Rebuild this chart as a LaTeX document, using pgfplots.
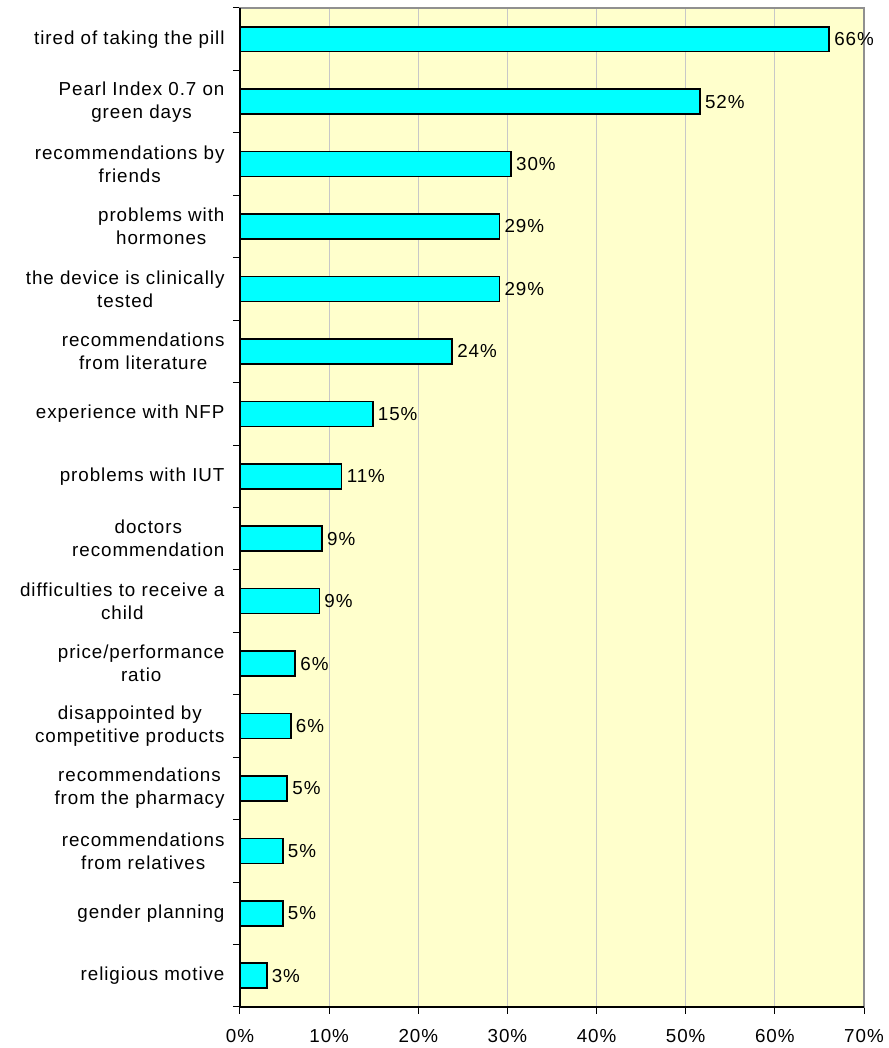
\documentclass[border=0pt]{standalone}
\usepackage{fontspec}
\setmainfont{Liberation Sans}[LetterSpace=5]
\usepackage{pgfplots}
\pgfplotsset{compat=1.18}
\definecolor{plotbg}{HTML}{FFFFCC}
\definecolor{barcyan}{HTML}{00FFFF}
\definecolor{gridgray}{HTML}{C8C8C8}
\definecolor{framegray}{HTML}{909090}
\begin{document}
\begin{tikzpicture}
\begin{axis}[
    at={(0,0)}, anchor=south west,
    scale only axis,
    width=624pt, height=999pt,
    font=\fontsize{18.8}{23}\selectfont,
    /pgf/number format/assume math mode=true,
    xbar, bar width=0.4,
    xmin=0, xmax=70,
    ymin=-0.5, ymax=15.5,
    axis background/.style={fill=plotbg},
    axis line style={draw=framegray, line width=1.3pt},
    xtick pos=bottom, ytick pos=left,
    xtick={0,10,...,70},
    xticklabels={0\%,10\%,20\%,30\%,40\%,50\%,60\%,70\%},
    xmajorgrids,
    major grid style={draw=gridgray, line width=0.8pt},
    tick align=outside,
    major tick length=7pt,
    tick style={black, line width=1pt},
    xticklabel style={yshift=-12pt},
    ytick={-0.5,0.5,...,15.5},
    yticklabel style={text opacity=0},
    extra y ticks={0,...,15},
    extra y tick labels={
        religious motive,
        gender planning,
        recommendations\\from relatives,
        recommendations\\from the pharmacy,
        disappointed by\\competitive products,
        price/performance\\ratio,
        difficulties to receive a\\child,
        doctors\\recommendation,
        problems with IUT,
        experience with NFP,
        recommendations\\from literature,
        the device is clinically\\tested,
        problems with\\hormones,
        recommendations by\\friends,
        Pearl Index 0.7 on\\green days,
        tired of taking the pill},
    extra y tick style={major tick length=0pt, grid=none,
        yticklabel style={align=center, xshift=-12pt, text opacity=1}},
    nodes near coords={\pgfmathprintnumber[fixed,precision=0]{\pgfplotspointmeta}\%},
    nodes near coords style={anchor=west, xshift=1pt},
    clip=false,
]
\addplot[fill=barcyan, draw=black, line width=1.6pt] coordinates {
    (3.0,0) (4.8,1) (4.8,2) (5.3,3) (5.7,4) (6.2,5) (8.9,6) (9.2,7)
    (11.4,8) (14.9,9) (23.8,10) (29.1,11) (29.1,12) (30.4,13) (51.6,14) (66.1,15)
};
\draw[black, line width=1.3pt] (rel axis cs:0,1) -- (rel axis cs:0,0) -- (rel axis cs:1,0);
\end{axis}
\pgfresetboundingbox
\path[use as bounding box] (-240pt,-41pt) rectangle (648pt,1007pt);
\end{tikzpicture}
\end{document}
